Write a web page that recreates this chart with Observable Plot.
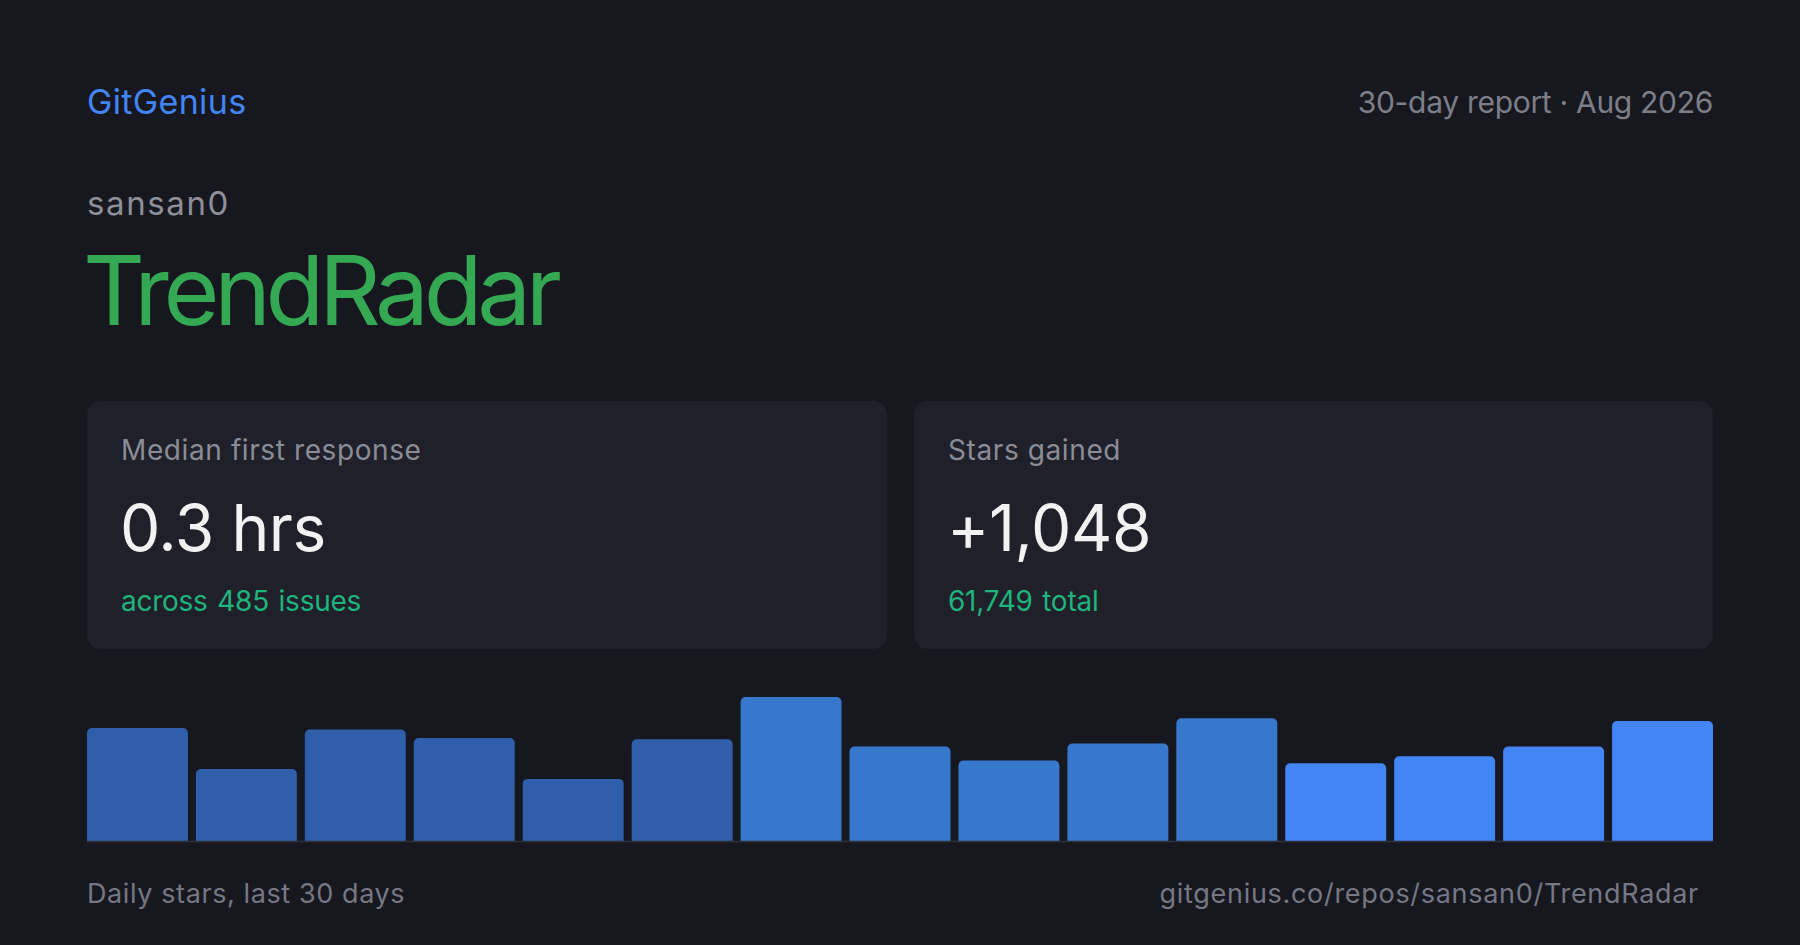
<!DOCTYPE html>
<html>
<head>
<meta charset="utf-8">
<script src="https://cdn.jsdelivr.net/npm/d3@7"></script>
<script src="https://cdn.jsdelivr.net/npm/@observablehq/plot@0.6"></script>
<style>
  html, body { margin: 0; padding: 0; background: #17181f; }
  body { width: 1800px; height: 945px; position: relative; overflow: hidden; font-family: Inter, "Noto Sans", sans-serif; }
  .abs { position: absolute; line-height: 1; white-space: nowrap; }
  .card { position: absolute; top: 401px; height: 248px; background: #1f2029; border-radius: 14px; }
  .card .label { position: absolute; left: 34px; top: 35px; font-size: 28px; color: #8b8c96; line-height: 1; letter-spacing: 0.6px; }
  .card .value { position: absolute; left: 33px; top: 95px; font-size: 64px; color: #f2f2f2; line-height: 1; letter-spacing: -0.4px; }
  .card .sub { position: absolute; left: 34px; top: 186px; font-size: 28px; color: #1fb37e; line-height: 1; word-spacing: 2px; letter-spacing: -0.25px; }
  #chart { position: absolute; left: 83px; top: 696px; }
</style>
</head>
<body>
<div class="abs" id="brand" style="left:87px; top:85px; font-size:34px; color:#4285f4; letter-spacing:0.35px;"></div>
<div class="abs" id="period" style="right:87px; top:87px; font-size:30px; color:#7d7e88; letter-spacing:-0.3px;"></div>
<div class="abs" id="owner" style="left:87px; top:187px; font-size:33px; color:#8e8f98; letter-spacing:1.6px;"></div>
<div class="abs" id="repo" style="left:83px; top:242px; font-size:96px; color:#34a853; letter-spacing:-5.3px;"></div>
<div class="card" style="left:87px; width:800px;">
  <div class="label" id="l1"></div><div class="value" id="v1"></div><div class="sub" id="s1"></div>
</div>
<div class="card" style="left:914px; width:799px;">
  <div class="label" id="l2"></div><div class="value" id="v2"></div><div class="sub" id="s2"></div>
</div>
<div id="chart"></div>
<div class="abs" id="capL" style="left:87px; top:880px; font-size:27px; color:#767783; letter-spacing:0.6px;"></div>
<div class="abs" id="capR" style="right:101px; top:880px; font-size:27px; color:#767783; letter-spacing:0.7px;"></div>
<script>
// ---- text content ----
const brand = "GitGenius";
const period = "30-day report · Aug 2026";
const owner = "sansan0";
const repo = "TrendRadar";
const cardLabels = ["Median first response", "Stars gained"];
const cardValues = ["0.3 hrs", "+1,048"];
const cardSubs = ["across 485 issues", "61,749 total"];
const captionLeft = "Daily stars, last 30 days";
const captionRight = "gitgenius.co/repos/sansan0/TrendRadar";

// ---- bar data: 15 bars, 2 days each ----
const periods = ["1–2","3–4","5–6","7–8","9–10","11–12","13–14","15–16","17–18","19–20","21–22","23–24","25–26","27–28","29–30"];
const stars = [80, 51, 79, 73, 44, 72, 102, 67, 57, 69, 87, 55, 60, 67, 85];
const shade = ["a","a","a","a","a","a","b","b","b","b","b","c","c","c","c"];
const shadeDomain = ["a","b","c"];
const shadeColors = ["#2f5fab", "#3778cc", "#4285f4"];

document.getElementById("brand").textContent = brand;
document.getElementById("period").textContent = period;
document.getElementById("owner").textContent = owner;
document.getElementById("repo").textContent = repo;
document.getElementById("l1").textContent = cardLabels[0];
document.getElementById("l2").textContent = cardLabels[1];
document.getElementById("v1").textContent = cardValues[0];
document.getElementById("v2").textContent = cardValues[1];
document.getElementById("s1").textContent = cardSubs[0];
document.getElementById("s2").textContent = cardSubs[1];
document.getElementById("capL").textContent = captionLeft;
document.getElementById("capR").textContent = captionRight;

const data = periods.map((p, i) => ({period: p, stars: stars[i], shade: shade[i]}));

const chart = Plot.plot({
  width: 1634,
  height: 146,
  marginTop: 1,
  marginBottom: 1,
  marginLeft: 0,
  marginRight: 0,
  style: {background: "transparent", overflow: "visible"},
  x: {domain: periods, padding: 0, round: false, axis: null},
  y: {domain: [0, d3.max(stars)], axis: null},
  color: {domain: shadeDomain, range: shadeColors},
  marks: [
    Plot.barY(data, {x: "period", y1: d => -8, y2: "stars", fill: "shade", rx: 5, insetLeft: 4, insetRight: 4, clip: true}),
    Plot.ruleY([0], {stroke: "#2e303c", strokeWidth: 1.5, insetLeft: 4, insetRight: 4})
  ]
});
document.getElementById("chart").appendChild(chart);
</script>
</body>
</html>
